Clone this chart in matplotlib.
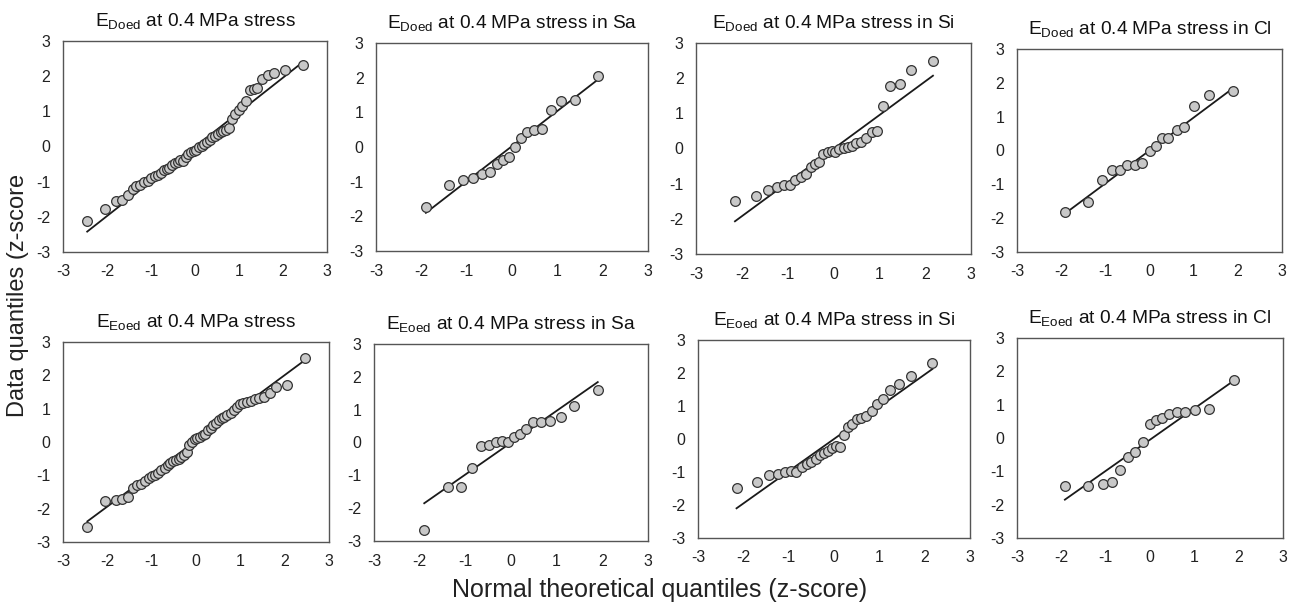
import matplotlib
matplotlib.use("Agg")
import matplotlib.pyplot as plt

plt.rcParams['font.family'] = ['Liberation Sans', 'DejaVu Sans']
plt.rcParams['mathtext.fontset'] = 'custom'
plt.rcParams['mathtext.rm'] = 'Liberation Sans'

# theoretical normal quantiles (x) per subset
q_all = [-2.45, -2.05, -1.80, -1.67, -1.53, -1.42, -1.33, -1.24, -1.15, -1.07, -0.99, -0.92, -0.85,
         -0.78, -0.71, -0.64, -0.58, -0.52, -0.45, -0.39, -0.33, -0.27, -0.21, -0.15, -0.09, -0.03,
         0.03, 0.09, 0.15, 0.21, 0.27, 0.33, 0.39, 0.45, 0.52, 0.58, 0.64, 0.71, 0.78, 0.85, 0.92,
         0.99, 1.07, 1.15, 1.24, 1.33, 1.42, 1.53, 1.67, 1.80, 2.05, 2.45]
q_sa = [-1.90, -1.38, -1.09, -0.85, -0.66, -0.48, -0.33, -0.19, -0.06, 0.06, 0.19, 0.33, 0.48,
        0.66, 0.85, 1.09, 1.38, 1.90]
q_si = [-2.15, -1.69, -1.44, -1.24, -1.09, -0.95, -0.83, -0.71, -0.60, -0.50, -0.40, -0.31, -0.22,
        -0.13, -0.04, 0.04, 0.13, 0.22, 0.31, 0.40, 0.50, 0.60, 0.71, 0.83, 0.95, 1.09, 1.24, 1.44,
        1.69, 2.17]
q_cl = [-1.92, -1.39, -1.07, -0.86, -0.67, -0.50, -0.33, -0.16, 0.0, 0.14, 0.28, 0.43, 0.62, 0.79,
        1.01, 1.34, 1.89]

# data quantiles (y)
doed_all = [-2.12, -1.79, -1.56, -1.51, -1.39, -1.22, -1.12, -1.10, -1.02, -0.97, -0.90, -0.84, -0.80,
            -0.75, -0.68, -0.63, -0.60, -0.52, -0.48, -0.44, -0.38, -0.42, -0.30, -0.20, -0.17, -0.14,
            -0.10, -0.02, 0.02, 0.06, 0.12, 0.18, 0.26, 0.30, 0.36, 0.40, 0.45, 0.47, 0.52, 0.78, 0.92,
            1.05, 1.15, 1.28, 1.60, 1.64, 1.66, 1.92, 2.03, 2.08, 2.17, 2.32]
doed_sa = [-1.73, -1.09, -0.96, -0.89, -0.77, -0.72, -0.50, -0.37, -0.29, 0.0, 0.26, 0.43, 0.48,
           0.53, 1.06, 1.32, 1.35, 2.06]
doed_si = [-1.50, -1.36, -1.19, -1.09, -1.03, -1.05, -0.89, -0.82, -0.73, -0.53, -0.45, -0.37, -0.16,
           -0.09, -0.08, -0.11, -0.02, 0.01, 0.03, 0.06, 0.16, 0.18, 0.30, 0.46, 0.51, 1.22, 1.77,
           1.82, 2.22, 2.50]
doed_cl = [-1.82, -1.52, -0.88, -0.58, -0.58, -0.43, -0.43, -0.36, -0.02, 0.13, 0.38, 0.38, 0.60,
           0.70, 1.31, 1.64, 1.76]
eoed_all = [-2.55, -1.78, -1.73, -1.70, -1.65, -1.38, -1.30, -1.25, -1.18, -1.08, -1.02, -0.98, -0.94,
            -0.85, -0.79, -0.70, -0.63, -0.58, -0.53, -0.50, -0.45, -0.39, -0.29, -0.09, 0.01, 0.08,
            0.12, 0.16, 0.20, 0.25, 0.35, 0.42, 0.51, 0.58, 0.65, 0.71, 0.76, 0.82, 0.87, 0.97, 1.05,
            1.13, 1.18, 1.20, 1.24, 1.28, 1.31, 1.36, 1.46, 1.64, 1.71, 2.52]
eoed_sa = [-2.67, -1.36, -1.36, -0.78, -0.12, -0.07, 0.01, 0.05, 0.03, 0.18, 0.26, 0.41, 0.61,
           0.61, 0.64, 0.79, 1.10, 1.59]
eoed_si = [-1.49, -1.29, -1.10, -1.06, -1.01, -0.98, -1.00, -0.85, -0.75, -0.70, -0.62, -0.47, -0.42,
           -0.36, -0.28, -0.21, -0.23, 0.13, 0.35, 0.45, 0.60, 0.65, 0.70, 0.85, 1.05, 1.22, 1.50,
           1.66, 1.91, 2.31]
eoed_cl = [-1.43, -1.43, -1.37, -1.33, -0.95, -0.57, -0.43, -0.13, 0.43, 0.55, 0.60, 0.73, 0.77,
           0.77, 0.85, 0.88, 1.75]

# reference line y-values at the smallest / largest theoretical quantile
line_lo = [-2.42, -1.90, -2.07, -1.87, -2.38, -1.85, -2.10, -1.85]
line_hi = [2.40, 1.95, 2.07, 1.84, 2.45, 1.84, 2.12, 1.72]

titles = [r"E$_{\mathregular{Doed}}$ at 0.4 MPa stress",
          r"E$_{\mathregular{Doed}}$ at 0.4 MPa stress in Sa",
          r"E$_{\mathregular{Doed}}$ at 0.4 MPa stress in Si",
          r"E$_{\mathregular{Doed}}$ at 0.4 MPa stress in Cl",
          r"E$_{\mathregular{Eoed}}$ at 0.4 MPa stress",
          r"E$_{\mathregular{Eoed}}$ at 0.4 MPa stress in Sa",
          r"E$_{\mathregular{Eoed}}$ at 0.4 MPa stress in Si",
          r"E$_{\mathregular{Eoed}}$ at 0.4 MPa stress in Cl"]
xs = [q_all, q_sa, q_si, q_cl, q_all, q_sa, q_si, q_cl]
ys = [doed_all, doed_sa, doed_si, doed_cl, eoed_all, eoed_sa, eoed_si, eoed_cl]
ticks = [-3, -2, -1, 0, 1, 2, 3]

W, H = 1297, 603
boxes = [(63, 41, 327, 252), (376, 43, 648, 251), (696, 43, 971, 254), (1017, 49, 1282, 252),
         (63, 342, 329, 542), (374, 344, 648, 541), (698, 340, 970, 538), (1017, 338, 1283, 538)]

fig = plt.figure(figsize=(W / 100, H / 100), dpi=100)
for i in range(8):
    x0, y0, x1, y1 = boxes[i]
    ax = fig.add_axes([x0 / W, 1 - y1 / H, (x1 - x0) / W, (y1 - y0) / H])
    x = xs[i]
    y = ys[i]
    ax.plot([x[0], x[-1]], [line_lo[i], line_hi[i]], color='#1a1a1a', lw=1.3, zorder=2)
    ax.plot(x, y, 'o', ms=7.0, mfc='#c8c8c8', mec='#333333', mew=0.9, zorder=3)
    ax.set_xlim(-3, 3)
    ax.set_ylim(-3, 3)
    ax.set_xticks(ticks)
    ax.set_yticks(ticks)
    ax.set_xticklabels([str(t) for t in ticks])
    ax.set_yticklabels([str(t) for t in ticks])
    ax.tick_params(length=0, labelsize=11.5, pad=9, colors='#222222')
    for s in ax.spines.values():
        s.set_color('#555555')
        s.set_linewidth(1.0)
    ax.set_title(titles[i], fontsize=13.8, pad=10, color='#111111')

fig.text(18 / W, 1 - 295 / H, "Data quantiles (z-score", rotation=90, fontsize=17,
         ha='center', va='center', color='#222222')
fig.text(660 / W, 1 - 590 / H, "Normal theoretical quantiles (z-score)", fontsize=18,
         ha='center', va='center', color='#222222')

fig.savefig("out.png", dpi=100)
